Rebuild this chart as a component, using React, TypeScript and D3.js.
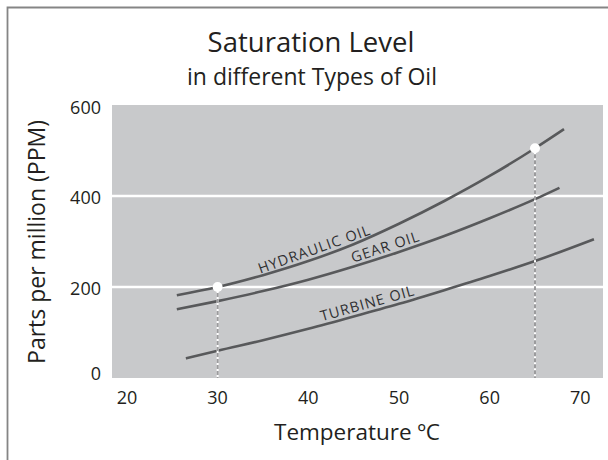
import * as d3 from "d3";
import { useEffect, useRef } from "react";

const temps = [25.5, 30, 35, 40, 45, 50, 55, 60, 65, 68.2];
const hydraulic = [182, 200, 226, 257, 294, 339, 389, 444, 505, 547];

const gearTemps = [25.5, 30, 35, 40, 45, 50, 55, 60, 65, 67.7];
const gear = [151, 169, 191, 216, 245, 277, 312, 351, 393, 418];

const turbineTemps = [26.5, 30, 35, 40, 45, 50, 55, 60, 65, 71.5];
const turbine = [43, 60, 83, 108, 135, 163, 193, 224, 257, 305];

const xTicks = [20, 30, 40, 50, 60, 70];
const yTicks = [0, 200, 400, 600];
const gridValues = [200, 400];

// highlighted readings: [temperature, ppm]
const markers: [number, number][] = [
	[30, 200],
	[65, 505],
];

const series = [
	{ name: "HYDRAULIC OIL", xs: temps, ys: hydraulic, labelAt: 41.0 },
	{ name: "GEAR OIL", xs: gearTemps, ys: gear, labelAt: 48.8 },
	{ name: "TURBINE OIL", xs: turbineTemps, ys: turbine, labelAt: 46.8 },
];

const FONT = "'Open Sans', sans-serif";

export default function App() {
	const svgRef = useRef<SVGSVGElement>(null);

	useEffect(() => {
		const svg = d3.select(svgRef.current);
		if (!svg.node()) return;
		svg.selectAll("*").remove();

		const width = 608;
		const height = 460;

		const x = d3.scaleLinear().domain([18.35, 72.5]).range([112, 603]);
		const y = d3.scaleLinear().domain([0, 600]).range([378, 105]);

		// frame (left and top only)
		svg
			.append("path")
			.attr("d", `M7.5,${height} V7.5 H${width}`)
			.attr("fill", "none")
			.attr("stroke", "#858585")
			.attr("stroke-width", 1.8);

		// titles
		svg
			.append("text")
			.attr("x", 311)
			.attr("y", 52)
			.attr("text-anchor", "middle")
			.attr("fill", "#231f20")
			.style("font-family", FONT)
			.style("font-size", "27.5px")
			.text("Saturation Level");

		svg
			.append("text")
			.attr("x", 312)
			.attr("y", 85)
			.attr("text-anchor", "middle")
			.attr("fill", "#231f20")
			.style("font-family", FONT)
			.style("font-size", "23px")
			.text("in different Types of Oil");

		// plot background
		svg
			.append("rect")
			.attr("x", x.range()[0])
			.attr("y", y(600))
			.attr("width", x.range()[1] - x.range()[0])
			.attr("height", y(0) - y(600))
			.attr("fill", "#c8c9cb");

		// white gridlines
		svg
			.append("g")
			.selectAll("line")
			.data(gridValues)
			.join("line")
			.attr("x1", x.range()[0])
			.attr("x2", x.range()[1])
			.attr("y1", (d) => y(d))
			.attr("y2", (d) => y(d))
			.attr("stroke", "#ffffff")
			.attr("stroke-width", 2.5);

		// tick labels
		svg
			.append("g")
			.selectAll("text")
			.data(xTicks)
			.join("text")
			.attr("x", (d) => x(d))
			.attr("y", 404)
			.attr("text-anchor", "middle")
			.attr("fill", "#231f20")
			.style("font-family", FONT)
			.style("font-size", "18px")
			.text((d) => d);

		svg
			.append("g")
			.selectAll("text")
			.data(yTicks)
			.join("text")
			.attr("x", 101)
			.attr("y", (d) => y(d) + (d === 0 ? -4 : d === 600 ? 3 : 2))
			.attr("dy", "0.35em")
			.attr("text-anchor", "end")
			.attr("fill", "#231f20")
			.style("font-family", FONT)
			.style("font-size", "18px")
			.text((d) => d);

		// axis titles
		svg
			.append("text")
			.attr("x", 357)
			.attr("y", 440)
			.attr("text-anchor", "middle")
			.attr("fill", "#231f20")
			.style("font-family", FONT)
			.style("font-size", "22.5px")
			.text("Temperature ºC");

		svg
			.append("text")
			.attr("transform", "translate(45,242) rotate(-90)")
			.attr("text-anchor", "middle")
			.attr("fill", "#231f20")
			.style("font-family", FONT)
			.style("font-size", "23px")
			.text("Parts per million (PPM)");

		// curves
		const line = d3
			.line<[number, number]>()
			.x((d) => x(d[0]))
			.y((d) => y(d[1]))
			.curve(d3.curveMonotoneX);

		series.forEach((s) => {
			const pts = s.xs.map((t, i) => [t, s.ys[i]] as [number, number]);
			svg
				.append("path")
				.attr("d", line(pts))
				.attr("fill", "none")
				.attr("stroke", "#58595b")
				.attr("stroke-width", 2.6);

			// label along the curve
			const interp = (t: number) => {
				const i = Math.max(1, d3.bisectLeft(s.xs, t));
				const t0 = s.xs[i - 1];
				const t1 = s.xs[i];
				const k = (t - t0) / (t1 - t0);
				return s.ys[i - 1] + k * (s.ys[i] - s.ys[i - 1]);
			};
			const cx = x(s.labelAt);
			const cy = y(interp(s.labelAt));
			const dx = x(s.labelAt + 2) - x(s.labelAt - 2);
			const dy = y(interp(s.labelAt + 2)) - y(interp(s.labelAt - 2));
			const angle = (Math.atan2(dy, dx) * 180) / Math.PI;
			svg
				.append("text")
				.attr("transform", `translate(${cx},${cy}) rotate(${angle})`)
				.attr("y", -4)
				.attr("text-anchor", "middle")
				.attr("fill", "#2f2f31")
				.style("font-family", FONT)
				.style("font-size", "14.5px")
				.style("letter-spacing", "1px")
				.text(s.name);
		});

		// dashed drop lines and dots
		markers.forEach(([t, v]) => {
			svg
				.append("line")
				.attr("x1", x(t))
				.attr("x2", x(t))
				.attr("y1", y(v))
				.attr("y2", y(0))
				.attr("stroke", "#ffffff")
				.attr("stroke-width", 2);
			svg
				.append("line")
				.attr("x1", x(t))
				.attr("x2", x(t))
				.attr("y1", y(v))
				.attr("y2", y(0))
				.attr("stroke", "#9b9b9d")
				.attr("stroke-width", 2)
				.attr("stroke-dasharray", "4 2");
			svg
				.append("circle")
				.attr("cx", x(t))
				.attr("cy", y(v))
				.attr("r", 5)
				.attr("fill", "#ffffff");
		});
	}, []);

	return (
		<svg
			ref={svgRef}
			width={608}
			height={460}
			style={{ position: "absolute", left: 0, top: 0, background: "#ffffff" }}
		/>
	);
}
